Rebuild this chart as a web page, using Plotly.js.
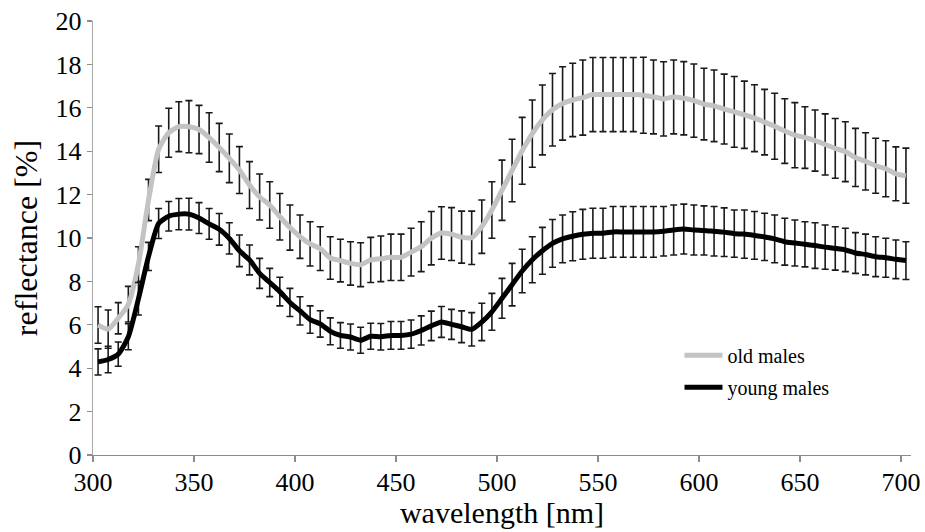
<!DOCTYPE html>
<html>
<head>
<meta charset="utf-8">
<script src="https://cdn.plot.ly/plotly-3.0.1.min.js"></script>
<style>
html,body{margin:0;padding:0;background:#fff;}
#chart{width:925px;height:532px;}
</style>
</head>
<body>
<div id="chart"></div>
<script>
// wavelength [nm]
const wavelength = [302.5,307.5,312.5,317.5,322.5,327.5,332.5,337.5,342.5,347.5,
  352.5,357.5,362.5,367.5,372.5,377.5,382.5,387.5,392.5,397.5,
  402.5,407.5,412.5,417.5,422.5,427.5,432.5,437.5,442.5,447.5,
  452.5,457.5,462.5,467.5,472.5,477.5,482.5,487.5,492.5,497.5,
  502.5,507.5,512.5,517.5,522.5,527.5,532.5,537.5,542.5,547.5,
  552.5,557.5,562.5,567.5,572.5,577.5,582.5,587.5,592.5,597.5,
  602.5,607.5,612.5,617.5,622.5,627.5,632.5,637.5,642.5,647.5,
  652.5,657.5,662.5,667.5,672.5,677.5,682.5,687.5,692.5,697.5,702.5];

// old males: mean reflectance [%] and error
const oldMales = [5.99,5.8,6.3,6.95,8.8,11.75,14.09,14.85,15.13,15.13,
  15.0,14.63,14.17,13.67,13.13,12.44,11.89,11.52,10.98,10.48,
  10.06,9.73,9.51,9.08,8.96,8.83,8.77,8.99,9.04,9.11,
  9.11,9.35,9.6,9.99,10.23,10.18,10.04,10.01,10.52,11.29,
  12.2,13.11,14.02,14.81,15.44,15.91,16.2,16.36,16.47,16.61,
  16.61,16.61,16.61,16.61,16.58,16.5,16.41,16.5,16.44,16.33,
  16.17,16.09,15.94,15.81,15.68,15.52,15.34,15.15,14.93,14.74,
  14.63,14.49,14.31,14.13,13.98,13.71,13.53,13.33,13.19,12.96,12.87];
const oldErr = [0.84,0.88,0.72,0.82,0.8,0.95,1.07,1.13,1.15,1.2,
  1.11,1.14,1.11,1.12,1.08,1.08,1.06,1.07,1.07,1.04,
  1.0,1.02,1.01,0.98,0.98,1.0,1.01,1.04,1.05,1.07,
  1.07,1.1,1.15,1.23,1.21,1.22,1.2,1.23,1.23,1.3,
  1.39,1.44,1.54,1.55,1.61,1.67,1.69,1.69,1.73,1.71,
  1.71,1.71,1.71,1.71,1.75,1.7,1.71,1.7,1.69,1.69,
  1.65,1.65,1.61,1.63,1.55,1.54,1.51,1.52,1.49,1.5,
  1.42,1.41,1.41,1.38,1.38,1.34,1.32,1.27,1.29,1.24,1.27];

// young males: mean reflectance [%] and error
const youngMales = [4.29,4.4,4.65,5.45,7.2,9.15,10.67,11.0,11.1,11.1,
  10.92,10.65,10.4,9.98,9.41,8.99,8.37,7.95,7.53,7.03,
  6.64,6.24,6.04,5.7,5.51,5.44,5.29,5.47,5.45,5.51,
  5.51,5.57,5.74,5.95,6.13,6.02,5.91,5.79,6.13,6.6,
  7.22,7.85,8.48,9.0,9.41,9.75,9.96,10.08,10.17,10.22,
  10.22,10.28,10.28,10.28,10.28,10.28,10.31,10.37,10.41,10.37,
  10.35,10.31,10.27,10.2,10.18,10.12,10.05,9.96,9.83,9.77,
  9.71,9.65,9.58,9.52,9.45,9.31,9.24,9.14,9.09,9.02,8.96];
const youngErr = [0.6,0.61,0.56,0.6,0.75,0.65,0.69,0.68,0.72,0.73,
  0.71,0.71,0.73,0.72,0.73,0.69,0.69,0.65,0.66,0.65,
  0.65,0.63,0.61,0.62,0.59,0.6,0.6,0.6,0.61,0.64,
  0.64,0.65,0.67,0.68,0.71,0.69,0.73,0.77,0.86,0.85,
  0.92,0.98,1.0,1.06,1.08,1.1,1.1,1.13,1.15,1.15,
  1.15,1.17,1.17,1.17,1.17,1.17,1.14,1.15,1.15,1.15,
  1.13,1.14,1.12,1.09,1.11,1.1,1.09,1.1,1.08,1.06,
  1.04,1.05,1.02,1.0,1.0,0.94,0.94,0.92,0.9,0.89,0.87];

const seriesNames = ['old males', 'young males'];
const xTicks = [300,350,400,450,500,550,600,650,700];
const yTicks = [0,2,4,6,8,10,12,14,16,18,20];

const serif = 'Liberation Serif';

const errStyle = (arr) => ({type:'data', array: arr, visible:true, color:'#1a1a1a', thickness:1.6, width:3.5});

const traces = [
  {x: wavelength, y: oldMales, name: seriesNames[0], type:'scatter', mode:'lines',
   line:{color:'#c3c3c3', width:5, shape:'spline', smoothing:0.6},
   error_y: errStyle(oldErr), legendgroup:'a'},
  {x: wavelength, y: youngMales, name: seriesNames[1], type:'scatter', mode:'lines',
   line:{color:'#000000', width:5, shape:'spline', smoothing:0.6},
   error_y: errStyle(youngErr), legendgroup:'b'}
];

const layout = {
  width:925, height:532,
  margin:{l:93, r:14, t:21, b:77},
  paper_bgcolor:'#fff', plot_bgcolor:'#fff',
  font:{family:serif, color:'#000'},
  showlegend:true,
  legend:{x:0.717, y:0.275, xanchor:'left', yanchor:'top', bgcolor:'rgba(0,0,0,0)',
    font:{family:serif, size:20, color:'#000'}, tracegroupgap:3, traceorder:'grouped',
    itemwidth:38},
  xaxis:{range:[300,705], tickvals:xTicks, ticktext:xTicks.map(String),
    showgrid:false, zeroline:false, showline:true, linecolor:'#8c8c8c', linewidth:1.3,
    ticks:'outside', ticklen:6, tickcolor:'#8c8c8c', tickwidth:1.3, ticklabelstandoff:-3,
    tickfont:{family:serif, size:26, color:'#000'},
    title:{text:'wavelength [nm]', font:{family:serif, size:30, color:'#000'}, standoff:3}},
  yaxis:{range:[0,20], tickvals:yTicks, ticktext:yTicks.map(String),
    showgrid:false, zeroline:false, showline:true, linecolor:'#a8a8a8', linewidth:1.3,
    ticks:'outside', ticklen:5, tickcolor:'#8c8c8c', tickwidth:1.3,
    tickfont:{family:serif, size:26, color:'#000'},
    title:{text:'reflectance [%]', font:{family:serif, size:32, color:'#000'}, standoff:8}}
};

Plotly.newPlot('chart', traces, layout, {displayModeBar:false, staticPlot:true});
</script>
</body>
</html>
